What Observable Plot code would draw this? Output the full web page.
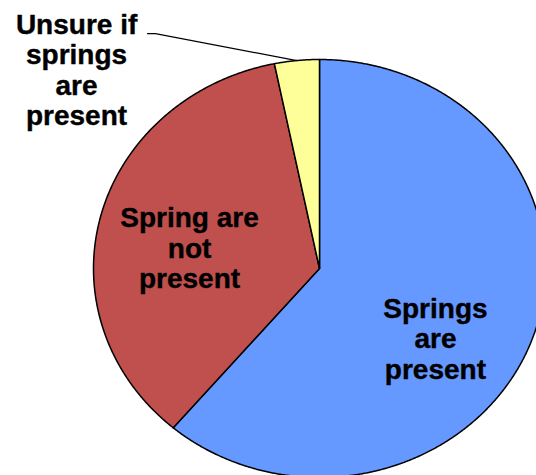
<!DOCTYPE html>
<html><head><meta charset="utf-8">
<script src="https://cdn.jsdelivr.net/npm/d3@7"></script>
<script src="https://cdn.jsdelivr.net/npm/@observablehq/plot@0.6"></script>
<style>
html,body{margin:0;padding:0;background:#fff;overflow:hidden;}
#chart svg{overflow:hidden;display:block;}
</style></head><body><div id="chart"></div>
<script>
// ---- data ----
const categories = ["Springs are present", "Spring are not present", "Unsure if springs are present"];
const labelTexts = ["Springs\nare\npresent", "Spring are\nnot\npresent", "Unsure if\nsprings\nare\npresent"];
const values = [61.2, 35.6, 3.2];
const colors = ["#6699FF", "#C0504D", "#FFFF99"];

// ---- layout (unit-circle coordinates) ----
const labelPlacement = {
  "Springs are present": [0.513, -0.335],
  "Spring are not present": [-0.575, 0.098],
  "Unsure if springs are present": [-1.075, 0.95]
};
const leaderElbow = [[-0.761, 1.124], [-0.726, 1.124]];

const slices = d3.pie().sort(null).value(d => d)(values);
const pts = [];
slices.forEach((s, i) => {
  const cat = categories[i];
  pts.push({cat, x: 0, y: 0});
  const n = Math.max(2, Math.ceil((s.endAngle - s.startAngle) / 0.005));
  for (let k = 0; k <= n; k++) {
    const a = s.startAngle + (s.endAngle - s.startAngle) * k / n;
    pts.push({cat, x: Math.sin(a), y: Math.cos(a)});
  }
  pts.push({cat, x: 0, y: 0});
});

const labelData = categories.map((c, i) => ({cat: c, text: labelTexts[i], x: labelPlacement[c][0], y: labelPlacement[c][1]}));

const ys = slices[2];
const ym = (ys.startAngle + ys.endAngle) / 2;
const leader = [
  {x: leaderElbow[0][0], y: leaderElbow[0][1]},
  {x: leaderElbow[1][0], y: leaderElbow[1][1]},
  {x: Math.sin(ym), y: Math.cos(ym)}
];

const chart = Plot.plot({
  width: 536,
  height: 475,
  margin: 0,
  style: {background: "#fff", fontFamily: "'Liberation Sans', Arial, sans-serif"},
  x: {domain: [-1, 1], range: [93, 545], axis: null},
  y: {domain: [-1, 1], range: [477, 59], axis: null},
  color: {domain: categories, range: colors},
  marks: [
    Plot.line(pts, {x: "x", y: "y", z: "cat", fill: "cat", stroke: "#000", strokeWidth: 1.5, strokeLinejoin: "round", curve: "linear"}),
    Plot.line(leader, {x: "x", y: "y", stroke: "#000", strokeWidth: 1.2, curve: "linear"}),
    Plot.text(labelData, {x: "x", y: "y", text: "text", fontSize: 28, fontWeight: "bold", lineHeight: 1.09, fill: "#000", stroke: "#000", strokeWidth: 0.4, textAnchor: "middle", letterSpacing: "0.8px"})
  ]
});
document.getElementById("chart").appendChild(chart);
</script>
</body></html>
